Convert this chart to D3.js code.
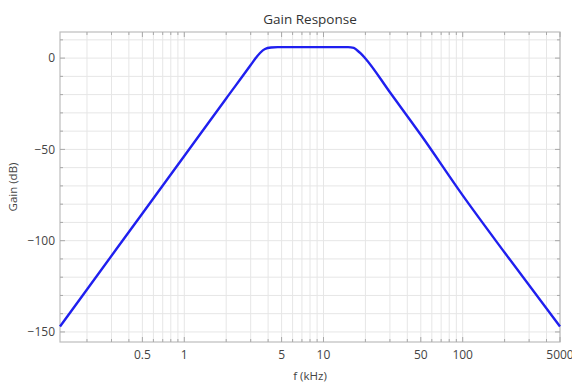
<!DOCTYPE html>
<html>
<head>
<meta charset="utf-8">
<script src="https://cdn.jsdelivr.net/npm/d3@7"></script>
<style>
  body { margin: 0; background: #fff; }
  text { font-family: "Open Sans", sans-serif; }
</style>
</head>
<body>
<svg id="chart" width="572" height="385"></svg>
<script>
// data (f in kHz, gain in dB)
const freqs = [0.128, 0.2, 0.5, 1, 2, 3, 3.23, 3.5, 3.8, 4.2, 4.7, 6, 10, 15, 16.5, 17.5, 18.5, 20, 30, 50, 100, 200, 500];
const gains = [-147, -126.7, -85.1, -53.6, -22.1, -3.8, -0.4, 2.8, 5.0, 5.8, 6, 6, 6, 6, 5.6, 4.2, 2.6, -0.2, -18.7, -42, -75.2, -106.5, -147];

// tick labels
const xTickValues = [0.5, 1, 5, 10, 50, 100, 500];
const xTickLabels = ['0.5', '1', '5', '10', '50', '100', '5000'];
const yTickValues = [0, -50, -100, -150];

// layout
const plotLeft = 60;
const plotRight = 560;
const plotTop = 32;
const plotBottom = 342;

// colors
const BLUE = '#1f1fef';
const GRID = '#e6e6e6';
const FRAME = '#bdbdbd';
const TICK = '#a8a8a8';
const LABEL = '#444444';

const svg = d3.select('#chart');

const x = d3.scaleLog().domain([0.128, 500]).range([plotLeft, plotRight]);
const y = d3.scaleLinear().domain([-155.5, 14.3]).range([plotBottom, plotTop]);

const minusFmt = v => (v < 0 ? '\u2212' + Math.abs(v) : String(v));

// grid lines
const xGrid = x.ticks();
const yGrid = d3.range(-150, 11, 10);

svg.append('g')
    .selectAll('line')
    .data(xGrid)
    .join('line')
    .attr('x1', d => x(d)).attr('x2', d => x(d))
    .attr('y1', plotTop).attr('y2', plotBottom)
    .attr('stroke', GRID).attr('stroke-width', 1);

svg.append('g')
    .selectAll('line')
    .data(yGrid)
    .join('line')
    .attr('x1', plotLeft).attr('x2', plotRight)
    .attr('y1', d => y(d)).attr('y2', d => y(d))
    .attr('stroke', GRID).attr('stroke-width', 1);

// frame
svg.append('rect')
    .attr('x', plotLeft).attr('y', plotTop)
    .attr('width', plotRight - plotLeft).attr('height', plotBottom - plotTop)
    .attr('fill', 'none').attr('stroke', FRAME).attr('stroke-width', 1.2);

// inward ticks on all four sides
const isMajorX = d => xTickValues.some(v => Math.abs(v - d) < 1e-9);
const isMajorY = d => d % 50 === 0;

const ticks = svg.append('g').attr('stroke', TICK).attr('stroke-width', 1);
ticks.selectAll('.xb').data(xGrid).join('line')
    .attr('x1', d => x(d)).attr('x2', d => x(d))
    .attr('y1', plotBottom).attr('y2', d => plotBottom - (isMajorX(d) ? 5 : 3));
ticks.selectAll('.xt').data(xGrid).join('line')
    .attr('x1', d => x(d)).attr('x2', d => x(d))
    .attr('y1', plotTop).attr('y2', d => plotTop + (isMajorX(d) ? 5 : 3));
ticks.selectAll('.yl').data(yGrid).join('line')
    .attr('y1', d => y(d)).attr('y2', d => y(d))
    .attr('x1', plotLeft).attr('x2', d => plotLeft + (isMajorY(d) ? 5 : 3));
ticks.selectAll('.yr').data(yGrid).join('line')
    .attr('y1', d => y(d)).attr('y2', d => y(d))
    .attr('x1', plotRight).attr('x2', d => plotRight - (isMajorY(d) ? 5 : 3));

// tick labels
svg.append('g')
    .selectAll('text')
    .data(xTickValues)
    .join('text')
    .attr('x', d => x(d))
    .attr('y', plotBottom + 17)
    .attr('text-anchor', 'middle')
    .attr('font-size', 12)
    .attr('fill', LABEL)
    .text((d, i) => xTickLabels[i]);

svg.append('g')
    .selectAll('text')
    .data(yTickValues)
    .join('text')
    .attr('x', plotLeft - 5)
    .attr('y', d => y(d))
    .attr('dy', '0.35em')
    .attr('text-anchor', 'end')
    .attr('font-size', 12)
    .attr('fill', LABEL)
    .text(minusFmt);

// response curve
const points = freqs.map((f, i) => [f, gains[i]]);
const line = d3.line()
    .x(d => x(d[0]))
    .y(d => y(d[1]))
    .curve(d3.curveMonotoneX);

svg.append('path')
    .datum(points)
    .attr('d', line)
    .attr('fill', 'none')
    .attr('stroke', BLUE)
    .attr('stroke-width', 2.4)
    .attr('stroke-linejoin', 'round');

// titles
svg.append('text')
    .attr('x', (plotLeft + plotRight) / 2)
    .attr('y', 24)
    .attr('text-anchor', 'middle')
    .attr('font-size', 13.5)
    .attr('fill', '#333')
    .text('Gain Response');

svg.append('text')
    .attr('x', (plotLeft + plotRight) / 2)
    .attr('y', 380)
    .attr('text-anchor', 'middle')
    .attr('font-size', 11.5)
    .attr('fill', LABEL)
    .text('f (kHz)');

svg.append('text')
    .attr('transform', `translate(13,${(plotTop + plotBottom) / 2}) rotate(-90)`)
    .attr('dy', '0.35em')
    .attr('text-anchor', 'middle')
    .attr('font-size', 11.5)
    .attr('fill', LABEL)
    .text('Gain (dB)');
</script>
</body>
</html>
